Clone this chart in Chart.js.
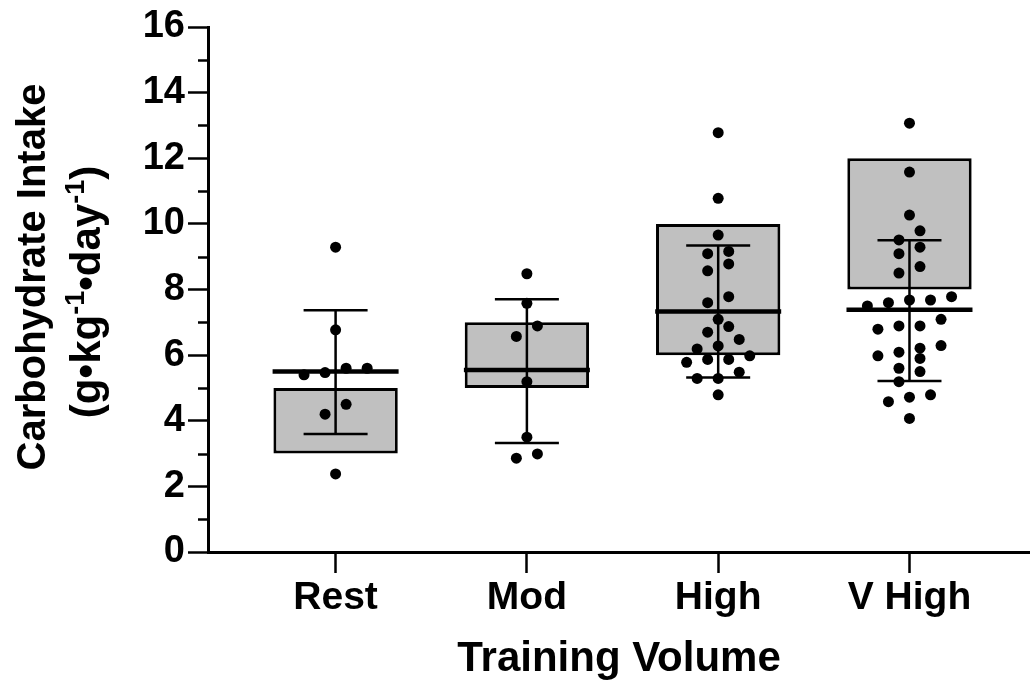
<!DOCTYPE html>
<html>
<head>
<meta charset="utf-8">
<script src="https://cdn.jsdelivr.net/npm/chart.js@4"></script>
<style>
  html, body { margin: 0; padding: 0; background: #fff; }
  #wrap { width: 1030px; height: 684px; position: relative; }
</style>
</head>
<body>
<div id="wrap"><canvas id="chart"></canvas></div>
<script>
// groups on the x axis
var categories = ['Rest', 'Mod', 'High', 'V High']

// individual values
var restVals = [9.29, 6.77, 5.60, 5.47, 5.40, 5.60, 4.50, 4.20, 2.38]
var modVals = [8.48, 7.58, 6.89, 6.57, 5.19, 3.50, 2.86, 2.99]
var highVals = [12.78, 10.78, 9.66, 9.09, 9.16, 8.78, 8.57, 7.78, 7.60, 7.09, 6.87, 6.70,
                6.48, 6.28, 6.19, 5.87, 5.78, 5.87, 5.98, 5.48, 5.29, 5.29, 4.79]
var vHighVals = [13.07, 11.58, 10.27, 9.79, 9.51, 9.29, 9.09, 8.70, 8.50, 7.68, 7.50, 7.68,
                 7.60, 7.78, 7.09, 6.89, 6.89, 6.79, 6.21, 6.29, 6.09, 5.90, 5.98, 5.50,
                 5.60, 5.19, 4.79, 4.58, 4.72, 4.07]

// grey boxes, mean line, error bars
var boxLow = [3, 5, 6, 8]
var boxHigh = [5, 7, 10, 12]
var means = [5.5, 5.55, 7.33, 7.38]
var errLow = [3.6, 3.32, 5.32, 5.21]
var errHigh = [7.37, 7.7, 9.34, 9.5]

// y axis
var yMajor = [0, 2, 4, 6, 8, 10, 12, 14, 16]
var yMinor = [1, 3, 5, 7, 9, 11, 13, 15]

var xTitle = 'Training Volume'
var yTitleLine1 = [['Carbohydrate Intake', false]]
var yTitleLine2 = [['(g\u2022kg', false], ['-1', true], ['\u2022day', false], ['-1', true], [')', false]]

var FONT = '"Liberation Sans", Arial, sans-serif'
var groups = [restVals, modVals, highVals, vHighVals]

// rows of close values get spread out side by side, like the scatter in the original
function swarm(vals, idx) {
    var sorted = vals.slice().sort(function (a, b) { return a - b })
    var rows = []
    sorted.forEach(function (v) {
        var row = rows[rows.length - 1]
        if (row && v - row[0] <= 0.33) row.push(v)
        else rows.push([v])
    })
    var pts = []
    rows.forEach(function (row) {
        row.forEach(function (v, k) {
            pts.push({ x: idx + (k - (row.length - 1) / 2) * 0.11, y: v })
        })
    })
    return pts
}

var dots = []
groups.forEach(function (g, i) { dots = dots.concat(swarm(g, i)) })

var boxData = categories.map(function (c, i) { return { x: i, y: [boxLow[i], boxHigh[i]] } })
var meanData = categories.map(function (c, i) { return { x: i, y: means[i] } })
var errData = []
categories.forEach(function (c, i) {
    errData.push({ x: i, y: errLow[i] }, { x: i, y: errHigh[i] }, { x: i, y: null })
})

var minorTicks = {
    id: 'minorTicks',
    afterDraw: function (chart) {
        var y = chart.scales.y
        var ctx = chart.ctx
        ctx.save()
        ctx.strokeStyle = '#000'
        ctx.lineWidth = 2.5
        yMinor.forEach(function (v) {
            var py = Math.round(y.getPixelForValue(v)) + 0.5
            ctx.beginPath()
            ctx.moveTo(y.right - 10, py)
            ctx.lineTo(y.right, py)
            ctx.stroke()
        })
        ctx.restore()
    }
}

function drawRotated(ctx, parts, x, cy, size, supSize) {
    ctx.save()
    ctx.translate(x, cy)
    ctx.rotate(-Math.PI / 2)
    ctx.textAlign = 'left'
    ctx.textBaseline = 'alphabetic'
    var total = 0
    parts.forEach(function (p) {
        ctx.font = 'bold ' + (p[1] ? supSize : size) + 'px ' + FONT
        total += ctx.measureText(p[0]).width
    })
    var pos = -total / 2
    parts.forEach(function (p) {
        ctx.font = 'bold ' + (p[1] ? supSize : size) + 'px ' + FONT
        ctx.fillText(p[0], pos, p[1] ? -16 : 0)
        pos += ctx.measureText(p[0]).width
    })
    ctx.restore()
}

var yTitle = {
    id: 'yTitle',
    afterDraw: function (chart) {
        var ctx = chart.ctx
        ctx.fillStyle = '#000'
        drawRotated(ctx, yTitleLine1, 45, 277, 40, 26)
        drawRotated(ctx, yTitleLine2, 100, 292, 42, 27)
    }
}

new Chart(document.getElementById('chart'), {
    type: 'bar',
    data: {
        datasets: [{
            type: 'scatter',
            data: dots,
            pointRadius: 5.5,
            pointBackgroundColor: '#000',
            pointBorderWidth: 0,
            order: 0
        }, {
            type: 'line',
            data: errData,
            borderColor: '#000',
            borderWidth: 2.5,
            pointStyle: 'line',
            pointRadius: 32,
            pointBorderColor: '#000',
            pointBorderWidth: 2.5,
            spanGaps: false,
            order: 1
        }, {
            type: 'scatter',
            data: meanData,
            pointStyle: 'line',
            pointRadius: 63,
            pointBorderColor: '#000',
            pointBorderWidth: 4.5,
            order: 2
        }, {
            type: 'bar',
            data: boxData,
            backgroundColor: '#c0c0c0',
            borderColor: '#000',
            borderWidth: 3,
            borderSkipped: false,
            categoryPercentage: 1,
            barPercentage: 0.65,
            order: 3
        }]
    },
    options: {
        responsive: true,
        maintainAspectRatio: false,
        animation: false,
        devicePixelRatio: 1,
        layout: { autoPadding: false, padding: { top: 27, right: 0, left: 0, bottom: 0 } },
        plugins: {
            legend: { display: false },
            tooltip: { enabled: false }
        },
        scales: {
            x: {
                type: 'linear',
                min: -0.667,
                max: 3.63,
                offset: false,
                afterBuildTicks: function (scale) {
                    scale.ticks = categories.map(function (c, i) { return { value: i } })
                },
                afterFit: function (scale) {
                    scale.height = 132
                    scale.paddingLeft = 0
                    scale.paddingRight = 0
                },
                grid: { offset: false, drawOnChartArea: false, tickLength: 21, tickWidth: 2.5, tickColor: '#000' },
                border: { display: true, color: '#000', width: 3 },
                ticks: {
                    autoSkip: false,
                    maxRotation: 0,
                    padding: 2,
                    color: '#000',
                    font: { family: FONT, size: 39, weight: 'bold', lineHeight: 1.2 },
                    callback: function (v) { return categories[v] }
                },
                title: {
                    display: true,
                    text: xTitle,
                    color: '#000',
                    font: { family: FONT, size: 42, weight: 'bold', lineHeight: 1 },
                    padding: { top: 0, bottom: 4 }
                }
            },
            y: {
                min: 0,
                max: 16,
                afterBuildTicks: function (scale) {
                    scale.ticks = yMajor.map(function (v) { return { value: v } })
                },
                afterFit: function (scale) {
                    scale.width = 208
                    scale.paddingTop = 0
                    scale.paddingBottom = 0
                },
                grid: { drawOnChartArea: false, tickLength: 20, tickWidth: 2.5, tickColor: '#000' },
                border: { display: true, color: '#000', width: 3 },
                ticks: {
                    padding: 3,
                    color: '#000',
                    font: { family: FONT, size: 38, weight: 'bold' }
                }
            }
        }
    },
    plugins: [minorTicks, yTitle]
})
</script>
</body>
</html>
